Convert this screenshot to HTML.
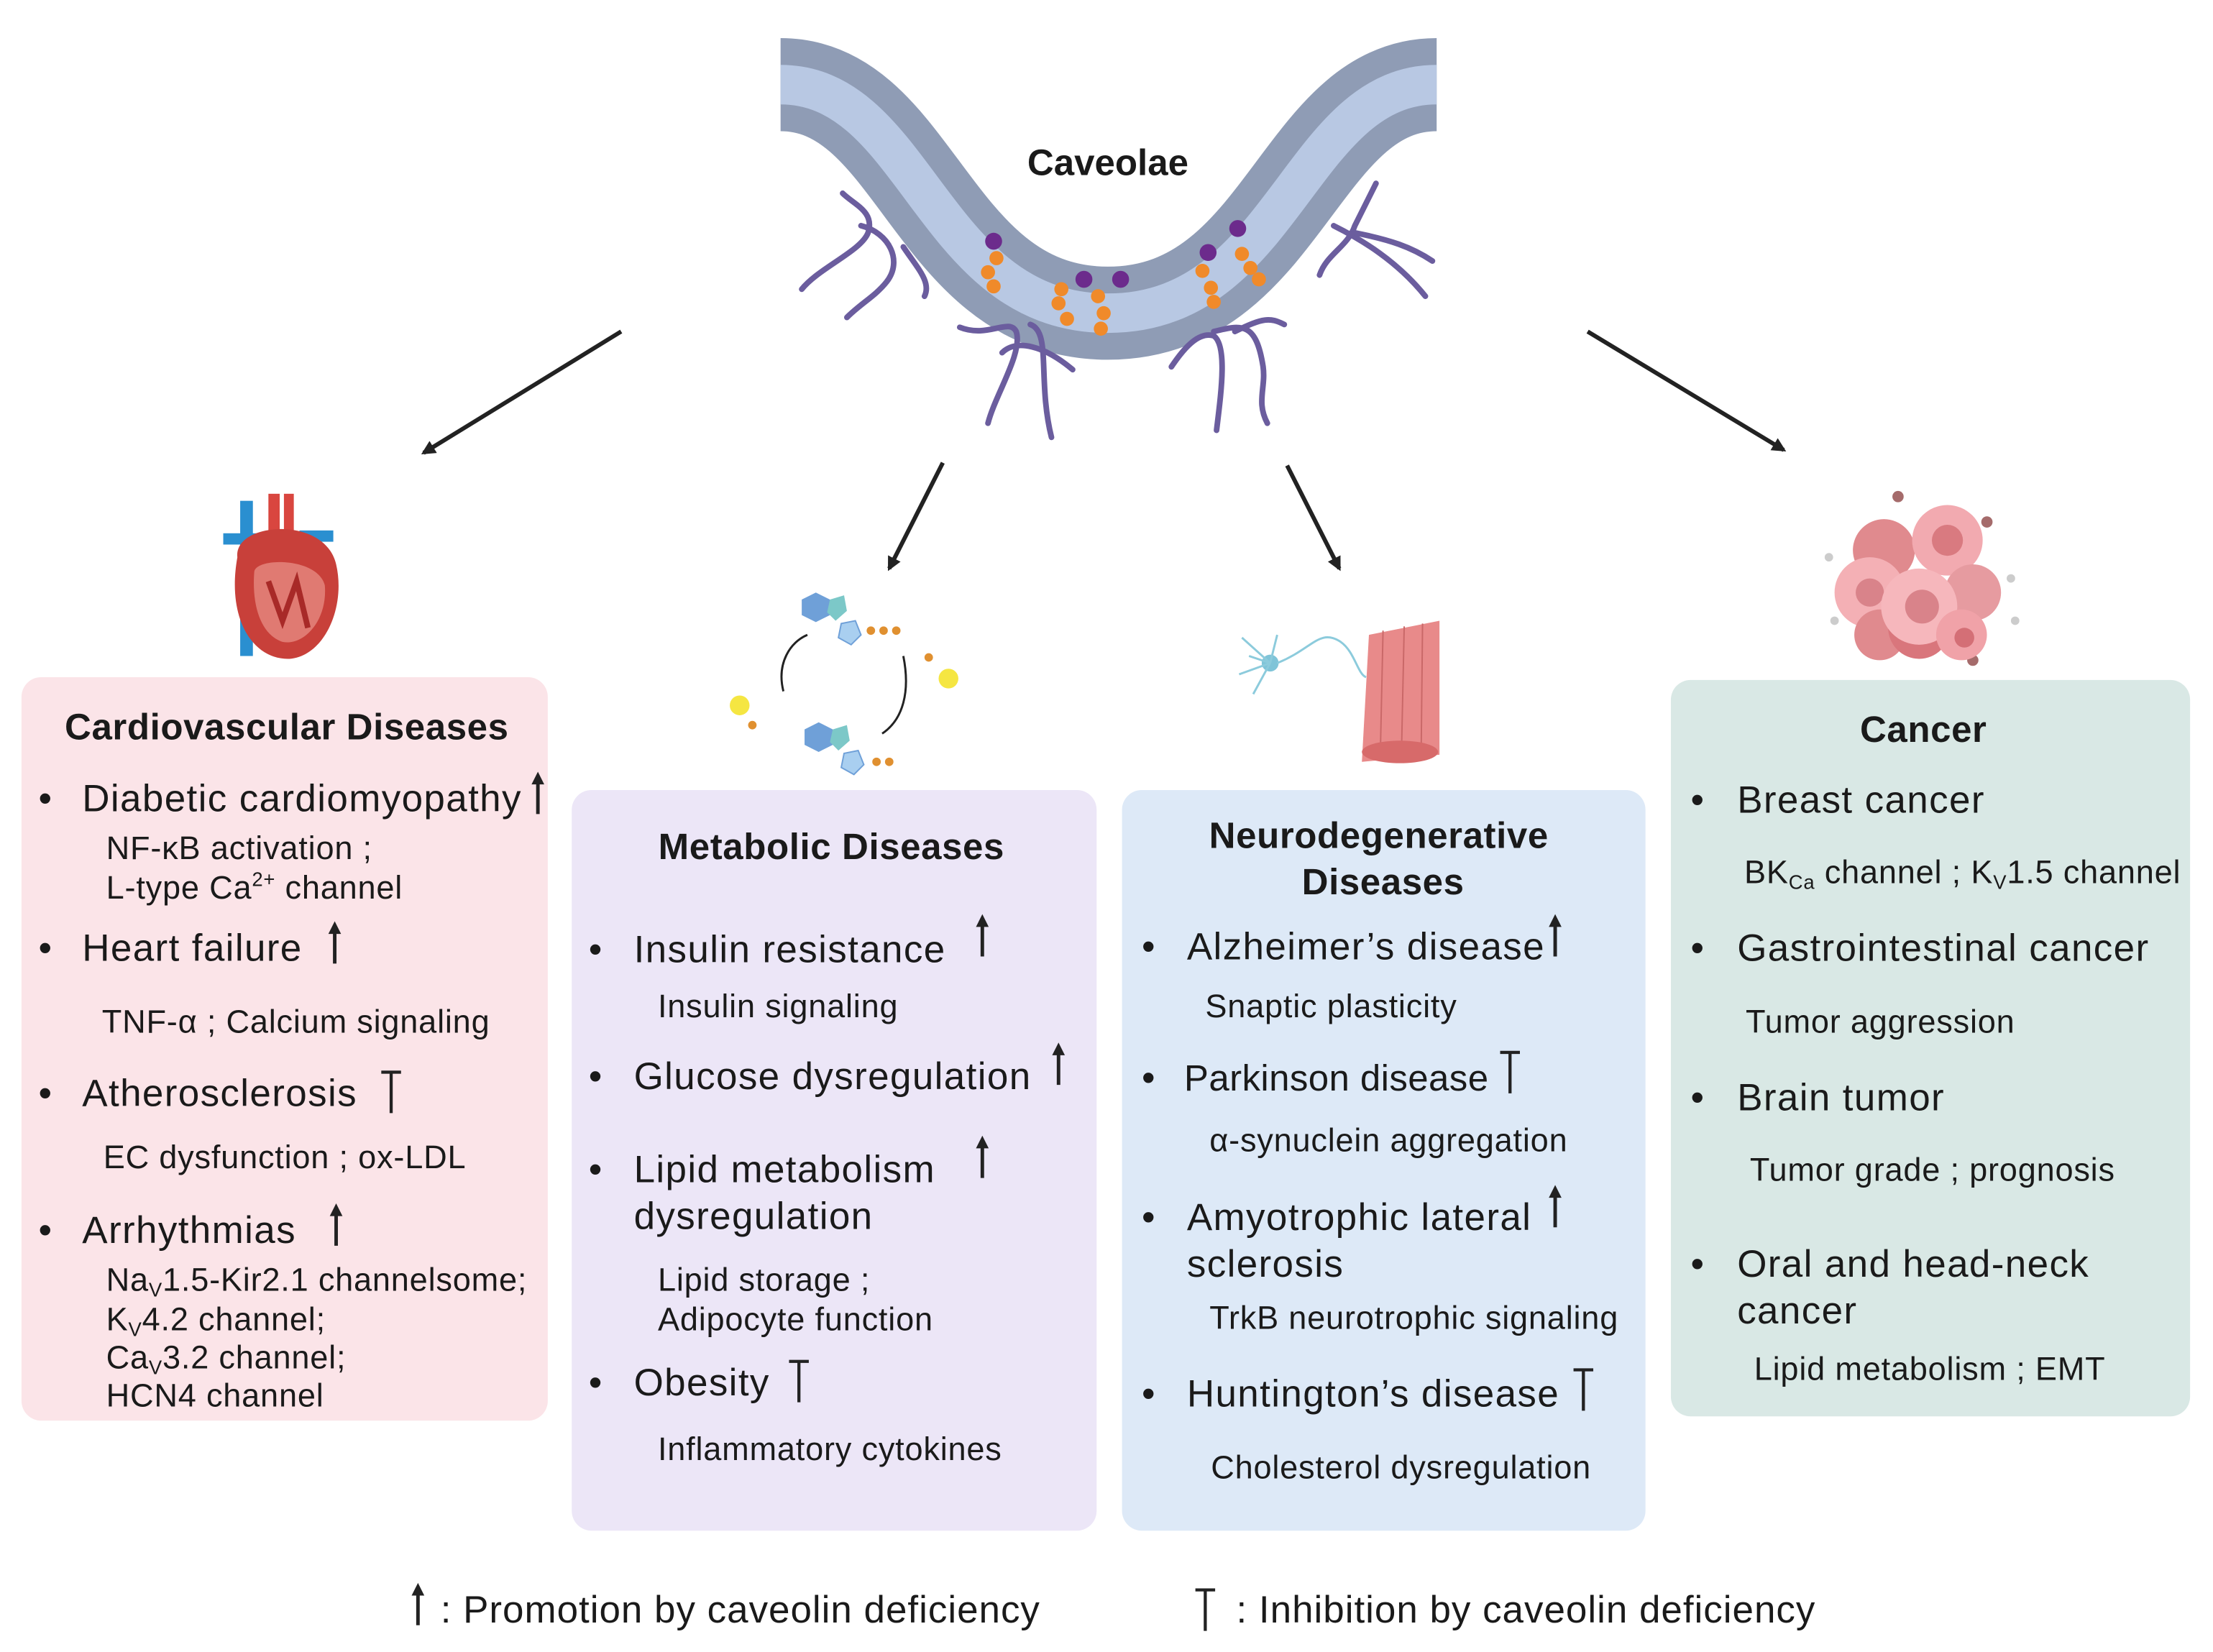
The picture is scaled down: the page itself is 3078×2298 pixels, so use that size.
<!DOCTYPE html>
<html><head><meta charset="utf-8"><style>
html,body{margin:0;padding:0;background:#fff;}
svg{display:block;}
text{font-family:"Liberation Sans",sans-serif;fill:#1a1a1a;}
.t{font-weight:bold;font-size:26px;letter-spacing:0.3px;}
.i{font-size:27px;letter-spacing:0.7px;}
.s{font-size:23px;letter-spacing:0.4px;}
.l{font-size:27px;letter-spacing:0.5px;}
</style></head><body>
<svg width="3078" height="2298" viewBox="0 0 1568 1171" xmlns="http://www.w3.org/2000/svg">
<defs>
<g id="up"><line x1="0" y1="30" x2="0" y2="4" stroke="#222" stroke-width="2.5"/><path d="M-4.5,9 L0,0 L4.5,9 Z" fill="#222"/></g>
<g id="tt"><line x1="0" y1="1" x2="0" y2="30" stroke="#222" stroke-width="2.2"/><line x1="-7" y1="1" x2="7" y2="1" stroke="#222" stroke-width="2.2"/></g>
<marker id="ah" markerWidth="10" markerHeight="10" refX="8" refY="5" orient="auto" markerUnits="userSpaceOnUse"><path d="M0,0 L10,5 L0,10 Z" fill="#222"/></marker>
</defs>

<!-- membrane -->
<path d="M553,60 C650,60 660,222 785,222 C910,222 920,60 1018,60" fill="none" stroke="#8f9cb5" stroke-width="66"/>
<path d="M553,60 C650,60 660,222 785,222 C910,222 920,60 1018,60" fill="none" stroke="#b8c8e3" stroke-width="28"/>
<text x="785" y="124" text-anchor="middle" style="font-weight:bold;font-size:26px">Caveolae</text>
<!-- proteins -->
<g fill="none" stroke="#6b5d9e" stroke-width="4" stroke-linecap="round">
<path d="M597,137 C605,145 620,150 615,165 C610,178 580,190 568,205"/>
<path d="M610,160 C630,165 640,185 628,200 C620,210 610,215 600,225"/>
<path d="M640,175 C650,190 660,200 655,210"/>
<path d="M680,232 C700,240 715,225 720,235 C725,250 705,280 700,300"/>
<path d="M730,230 C745,235 735,270 745,310"/>
<path d="M710,250 C720,240 740,245 760,262"/>
<path d="M830,260 C840,245 850,235 860,238 C870,245 865,280 862,305"/>
<path d="M860,235 C880,230 890,228 895,260 C897,275 890,285 898,300"/>
<path d="M875,235 C895,225 900,225 910,230"/>
<path d="M975,130 C970,140 965,150 960,160 C955,175 940,180 935,195"/>
<path d="M945,160 C965,170 990,185 1010,210"/>
<path d="M960,165 C985,170 1000,175 1015,185"/>
</g>
<g>
<circle cx="704" cy="171" r="6" fill="#6c2b8c"/><circle cx="768" cy="198" r="6" fill="#6c2b8c"/><circle cx="794" cy="198" r="6" fill="#6c2b8c"/><circle cx="856" cy="179" r="6" fill="#6c2b8c"/><circle cx="877" cy="162" r="6" fill="#6c2b8c"/>
<g fill="#f08a2a"><circle cx="706" cy="183" r="5"/><circle cx="700" cy="193" r="5"/><circle cx="704" cy="203" r="5"/><circle cx="752" cy="205" r="5"/><circle cx="750" cy="215" r="5"/><circle cx="756" cy="226" r="5"/><circle cx="778" cy="210" r="5"/><circle cx="782" cy="222" r="5"/><circle cx="780" cy="233" r="5"/><circle cx="852" cy="192" r="5"/><circle cx="858" cy="204" r="5"/><circle cx="860" cy="214" r="5"/><circle cx="880" cy="180" r="5"/><circle cx="886" cy="190" r="5"/><circle cx="892" cy="198" r="5"/></g>
</g>

<!-- arrows -->
<g stroke="#222" stroke-width="3" marker-end="url(#ah)">
<line x1="440" y1="235" x2="300" y2="321"/>
<line x1="668" y1="328" x2="630" y2="403"/>
<line x1="912" y1="330" x2="949" y2="403"/>
<line x1="1125" y1="235" x2="1264" y2="319"/>
</g>

<!-- heart -->
<g>
<rect x="170" y="355" width="9" height="110" fill="#2a8fd0"/>
<rect x="158" y="378" width="40" height="8" fill="#2a8fd0"/>
<rect x="212" y="376" width="24" height="8" fill="#2a8fd0"/>
<rect x="190" y="350" width="8" height="30" fill="#d9463f"/><rect x="201" y="350" width="7" height="30" fill="#d9463f"/>
<path d="M168,395 C165,370 230,365 238,400 C245,430 230,465 205,467 C180,468 160,440 168,395 Z" fill="#c8403a"/>
<path d="M180,405 C182,395 225,395 230,415 C232,440 215,458 200,455 C185,450 178,430 180,405 Z" fill="#e07a72"/>
<path d="M190,412 L200,440 L210,412 L218,445" stroke="#a82a28" stroke-width="4" fill="none"/>
</g>

<!-- metabolic cycle -->
<g>
<polygon points="568,425 578,420 588,425 588,436 578,441 568,436" fill="#6fa0d8"/>
<polygon points="588,425 598,422 600,433 592,440 586,434" fill="#7cc8c8"/>
<polygon points="596,442 606,440 610,450 603,457 594,452" fill="#a9cff0" stroke="#6fa0d8"/>
<circle cx="617" cy="447" r="3" fill="#e09030"/><circle cx="626" cy="447" r="3" fill="#e09030"/><circle cx="635" cy="447" r="3" fill="#e09030"/>
<polygon points="570,517 580,512 590,517 590,528 580,533 570,528" fill="#6fa0d8"/>
<polygon points="590,517 600,514 602,525 594,532 588,526" fill="#7cc8c8"/>
<polygon points="598,534 608,532 612,542 605,549 596,544" fill="#a9cff0" stroke="#6fa0d8"/>
<circle cx="621" cy="540" r="3" fill="#e09030"/><circle cx="630" cy="540" r="3" fill="#e09030"/>
<path d="M555,490 C550,470 560,455 572,450" fill="none" stroke="#222" stroke-width="1.5"/>
<path d="M640,465 C645,490 640,510 625,520" fill="none" stroke="#222" stroke-width="1.5"/>
<circle cx="524" cy="500" r="7" fill="#f5e642"/><circle cx="533" cy="514" r="3" fill="#e09030"/>
<circle cx="672" cy="481" r="7" fill="#f5e642"/><circle cx="658" cy="466" r="3" fill="#e09030"/>
</g>

<!-- neuron + muscle -->
<g>
<circle cx="900" cy="470" r="6" fill="#7fc4d8"/>
<g stroke="#8ccbdc" stroke-width="1.5" fill="none"><path d="M900,470 L880,452 M900,470 L878,478 M900,470 L888,492 M900,470 L905,450 M900,470 L885,465"/>
<path d="M905,470 C930,460 935,445 950,455 C960,462 962,478 968,480"/></g>
<path d="M970,450 L1020,440 L1020,535 L965,540 Z" fill="#e88a8a"/>
<g stroke="#c96868" stroke-width="1"><line x1="980" y1="447" x2="978" y2="538"/><line x1="995" y1="444" x2="993" y2="537"/><line x1="1008" y1="442" x2="1007" y2="536"/></g>
<ellipse cx="992" cy="533" rx="27" ry="8" fill="#d76a6a"/>
</g>

<!-- cancer cells -->
<g>
<circle cx="1345" cy="352" r="4" fill="#a56b6b"/><circle cx="1408" cy="370" r="4" fill="#a56b6b"/><circle cx="1398" cy="468" r="4" fill="#a56b6b"/>
<circle cx="1296" cy="395" r="3" fill="#ccc"/><circle cx="1425" cy="410" r="3" fill="#ccc"/><circle cx="1428" cy="440" r="3" fill="#ccc"/><circle cx="1300" cy="440" r="3" fill="#ccc"/><circle cx="1330" cy="460" r="3" fill="#ccc"/>
<circle cx="1335" cy="390" r="22" fill="#e08a8e"/><circle cx="1380" cy="383" r="25" fill="#f2aab0"/><circle cx="1380" cy="383" r="11" fill="#d97a80"/>
<circle cx="1325" cy="420" r="25" fill="#f4b0b5"/><circle cx="1325" cy="420" r="10" fill="#d9838a"/>
<circle cx="1398" cy="420" r="20" fill="#e69ba0"/><circle cx="1332" cy="450" r="18" fill="#e08a8e"/>
<circle cx="1360" cy="445" r="22" fill="#d9767c"/><circle cx="1360" cy="430" r="27" fill="#f6b7bc"/><circle cx="1362" cy="430" r="12" fill="#d9838a"/>
<circle cx="1390" cy="450" r="18" fill="#f0a2a8"/><circle cx="1392" cy="452" r="7" fill="#d46f76"/>
</g>

<!-- boxes -->
<rect x="15" y="480" width="373" height="527" rx="14" fill="#fbe4e8"/>
<rect x="405" y="560" width="372" height="525" rx="14" fill="#ece6f7"/>
<rect x="795" y="560" width="371" height="525" rx="14" fill="#dde9f7"/>
<rect x="1184" y="482" width="368" height="522" rx="14" fill="#d9e8e5"/>

<!-- Cardio -->
<text class="t" x="203" y="524" text-anchor="middle">Cardiovascular Diseases</text>
<g class="i">
<text x="27" y="575">•</text><text x="58" y="575">Diabetic cardiomyopathy</text>
<text x="27" y="681">•</text><text x="58" y="681">Heart failure</text>
<text x="27" y="784">•</text><text x="58" y="784">Atherosclerosis</text>
<text x="27" y="881">•</text><text x="58" y="881">Arrhythmias</text>
</g>
<use href="#up" x="381" y="547"/><use href="#up" x="237" y="653"/><use href="#tt" x="277" y="759"/><use href="#up" x="238" y="853"/>
<g class="s">
<text x="75" y="609">NF-κB activation ;</text>
<text x="75" y="637">L-type Ca<tspan font-size="14" dy="-9">2+</tspan><tspan dy="9"> channel</tspan></text>
<text x="72" y="732">TNF-α ; Calcium signaling</text>
<text x="73" y="828">EC dysfunction ; ox-LDL</text>
<text x="75" y="915">Na<tspan font-size="14" dy="4">V</tspan><tspan dy="-4">1.5-Kir2.1 channelsome;</tspan></text>
<text x="75" y="943">K<tspan font-size="14" dy="4">V</tspan><tspan dy="-4">4.2 channel;</tspan></text>
<text x="75" y="970">Ca<tspan font-size="14" dy="4">V</tspan><tspan dy="-4">3.2 channel;</tspan></text>
<text x="75" y="997">HCN4 channel</text>
</g>

<!-- Metabolic -->
<text class="t" x="589" y="609" text-anchor="middle">Metabolic Diseases</text>
<g class="i">
<text x="417" y="682">•</text><text x="449" y="682">Insulin resistance</text>
<text x="417" y="772">•</text><text x="449" y="772">Glucose dysregulation</text>
<text x="417" y="838">•</text><text x="449" y="838">Lipid metabolism</text>
<text x="449" y="871">dysregulation</text>
<text x="417" y="989">•</text><text x="449" y="989">Obesity</text>
</g>
<use href="#up" x="696" y="648"/><use href="#up" x="750" y="739"/><use href="#up" x="696" y="805"/><use href="#tt" x="566" y="964"/>
<g class="s">
<text x="466" y="721">Insulin signaling</text>
<text x="466" y="915">Lipid storage ;</text>
<text x="466" y="943">Adipocyte function</text>
<text x="466" y="1035">Inflammatory cytokines</text>
</g>

<!-- Neuro -->
<text class="t" x="977" y="601" text-anchor="middle">Neurodegenerative</text>
<text class="t" x="980" y="634" text-anchor="middle">Diseases</text>
<g class="i">
<text x="809" y="680">•</text><text x="841" y="680">Alzheimer’s disease</text>
<text x="809" y="773">•</text><text x="839" y="773" style="font-size:26px;letter-spacing:0.2px">Parkinson disease</text>
<text x="809" y="872">•</text><text x="841" y="872">Amyotrophic lateral</text>
<text x="841" y="905">sclerosis</text>
<text x="809" y="997">•</text><text x="841" y="997">Huntington’s disease</text>
</g>
<use href="#up" x="1102" y="648"/><use href="#tt" x="1070" y="745"/><use href="#up" x="1102" y="840"/><use href="#tt" x="1122" y="970"/>
<g class="s">
<text x="854" y="721">Snaptic plasticity</text>
<text x="857" y="816">α-synuclein aggregation</text>
<text x="857" y="942">TrkB neurotrophic signaling</text>
<text x="858" y="1048">Cholesterol dysregulation</text>
</g>

<!-- Cancer -->
<text class="t" x="1363" y="526" text-anchor="middle">Cancer</text>
<g class="i">
<text x="1198" y="576">•</text><text x="1231" y="576">Breast cancer</text>
<text x="1198" y="681">•</text><text x="1231" y="681">Gastrointestinal cancer</text>
<text x="1198" y="787">•</text><text x="1231" y="787">Brain tumor</text>
<text x="1198" y="905">•</text><text x="1231" y="905">Oral and head-neck</text>
<text x="1231" y="938">cancer</text>
</g>
<g class="s">
<text x="1236" y="626">BK<tspan font-size="14" dy="4">Ca</tspan><tspan dy="-4"> channel ; K</tspan><tspan font-size="14" dy="4">V</tspan><tspan dy="-4">1.5 channel</tspan></text>
<text x="1237" y="732">Tumor aggression</text>
<text x="1240" y="837">Tumor grade ; prognosis</text>
<text x="1243" y="978">Lipid metabolism ; EMT</text>
</g>

<!-- legend -->
<use href="#up" x="296" y="1122"/>
<text class="l" x="312" y="1150">: Promotion by caveolin deficiency</text>
<use href="#tt" x="854" y="1126"/>
<text class="l" x="876" y="1150">: Inhibition by caveolin deficiency</text>
</svg>
</body></html>
